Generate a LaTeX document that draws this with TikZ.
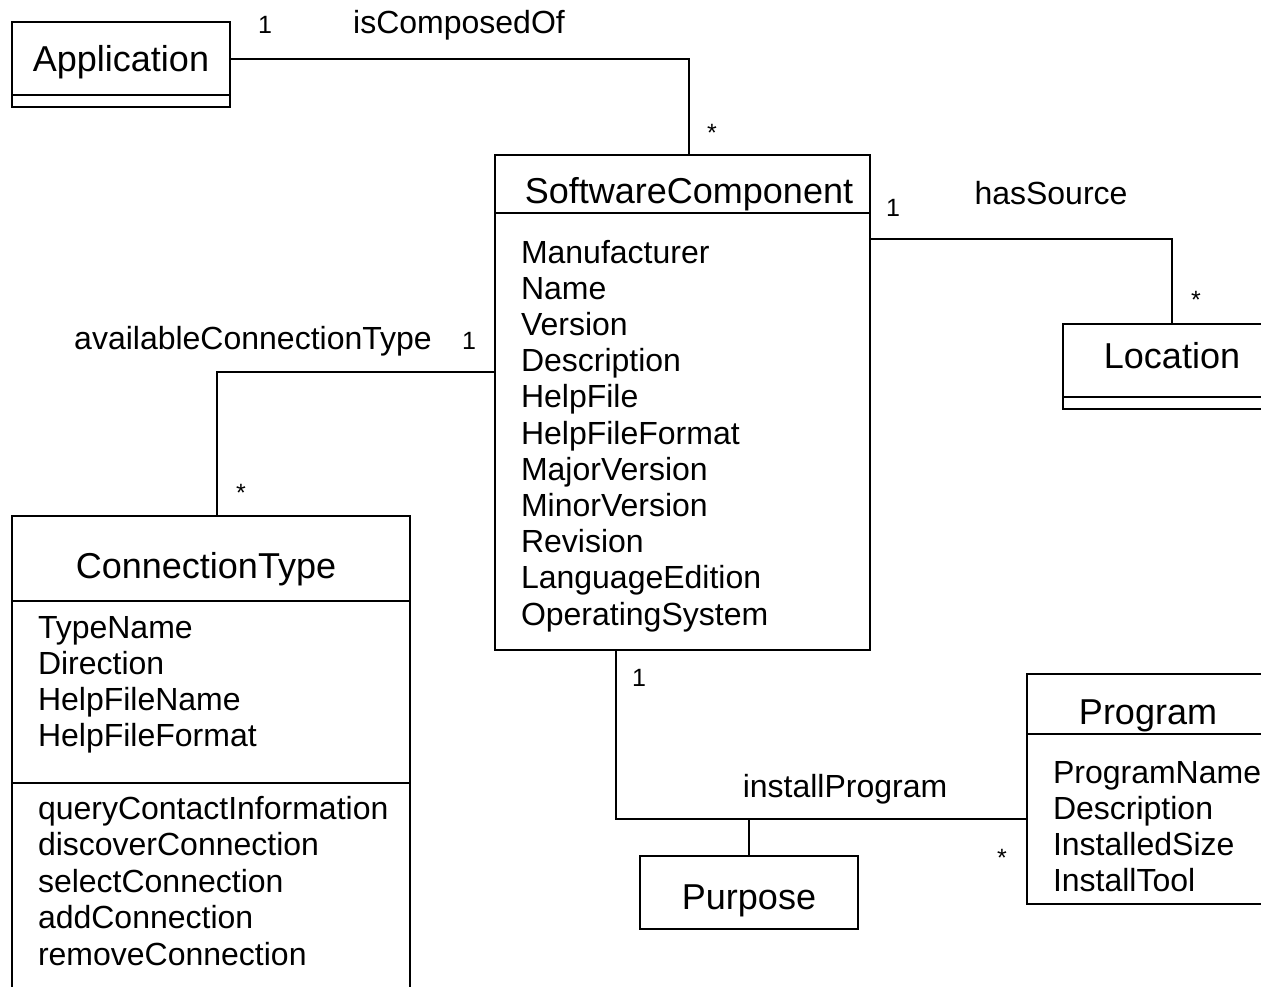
\documentclass[tikz,border=0pt]{standalone}
\usepackage{fontspec}
\setmainfont{Liberation Sans}

\begin{document}
\begin{tikzpicture}[x=1pt, y=-1pt, line width=2pt,
	box/.style={draw, anchor=north west, inner sep=0pt, outer sep=0pt},
	classname/.style={anchor=base, inner sep=0pt, font=\fontsize{36}{40}\selectfont},
	item/.style={anchor=base west, inner sep=0pt, font=\fontsize{32}{36}\selectfont},
	lbl/.style={anchor=base, inner sep=0pt, font=\fontsize{32}{36}\selectfont},
	mult/.style={anchor=base, inner sep=0pt, font=\fontsize{25}{28}\selectfont}]
	
	\fill[white] (0,0) rectangle (1261,986);
	\clip (0,0) rectangle (1261,986);
	
	% Application
	\node[box, minimum width=218, minimum height=73] (app) at (12,22) {};
	\node[box, minimum width=218, minimum height=12] (appops) at (app.south west) {};
	\node[classname] (appname) at (121,71) {Application};
	
	% SoftwareComponent
	\node[box, minimum width=375, minimum height=58] (sc) at (495,155) {};
	\node[box, minimum width=375, minimum height=437] (scattr) at (sc.south west) {};
	\node[classname] (scname) at (689,203) {SoftwareComponent};
	\foreach \a [count=\i] in {Manufacturer, Name, Version, Description, HelpFile,
		HelpFileFormat, MajorVersion, MinorVersion, Revision, LanguageEdition, OperatingSystem}
	\node[item] (sc-\i) at (520,{263+36.2*(\i-1)}) {\a};
	
	% Location
	\node[box, minimum width=218, minimum height=73] (loc) at (1063,324) {};
	\node[box, minimum width=218, minimum height=12] (locops) at (loc.south west) {};
	\node[classname] (locname) at (1172,368) {Location};
	
	% ConnectionType
	\node[box, minimum width=398, minimum height=85] (ct) at (12,516) {};
	\node[box, minimum width=398, minimum height=182] (ctattr) at (ct.south west) {};
	\node[box, minimum width=398, minimum height=230] (ctops) at (ctattr.south west) {};
	\node[classname] (ctname) at (206,578) {ConnectionType};
	\foreach \a [count=\i] in {TypeName, Direction, HelpFileName, HelpFileFormat}
	\node[item] (ct-\i) at (37,{638+36.3*(\i-1)}) {\a};
	\foreach \a [count=\i] in {queryContactInformation, discoverConnection,
		selectConnection, addConnection, removeConnection}
	\node[item] (op-\i) at (37,{819+36.5*(\i-1)}) {\a};
	
	% Purpose
	\node[box, minimum width=218, minimum height=73] (purp) at (640,856) {};
	\node[classname] (purpname) at (749,909) {Purpose};
	
	% Program
	\node[box, minimum width=242, minimum height=60] (prog) at (1027,674) {};
	\node[box, minimum width=242, minimum height=170] (progattr) at (prog.south west) {};
	\node[classname] (progname) at (1148,724) {Program};
	\foreach \a [count=\i] in {ProgramName, Description, InstalledSize, InstallTool}
	\node[item] (pr-\i) at (1052,{783+36.3*(\i-1)}) {\a};
	
	% associations
	\draw (app.east) -| ([xshift=6]sc.north);
	\draw ([yshift=-26]scattr.north east) -| (loc.north);
	\draw ([yshift=59.5]scattr.west) -| ([xshift=6]ct.north);
	\draw ([xshift=121]scattr.south west) |- (progattr.west);
	\coordinate (ipjoin) at (purp.north |- progattr.west);
	\draw (purp.north) -- (ipjoin);
	
	% role names and multiplicities
	\node[mult] (m-app) at (265,33) {1};
	\node[lbl] (l-comp) at (459,33) {isComposedOf};
	\node[mult] (m-sc1) at (712,141) {*};
	\node[mult] (m-sc2) at (893,216) {1};
	\node[lbl] (l-src) at (1051,204) {hasSource};
	\node[mult] (m-loc) at (1196,308) {*};
	\node[lbl] (l-conn) at (253,349) {availableConnectionType};
	\node[mult] (m-sc3) at (469,349) {1};
	\node[mult] (m-ct) at (241,501) {*};
	\node[mult] (m-sc4) at (639,686) {1};
	\node[lbl] (l-inst) at (845,797) {installProgram};
	\node[mult] (m-prog) at (1002,866) {*};
	
\end{tikzpicture}
\end{document}
